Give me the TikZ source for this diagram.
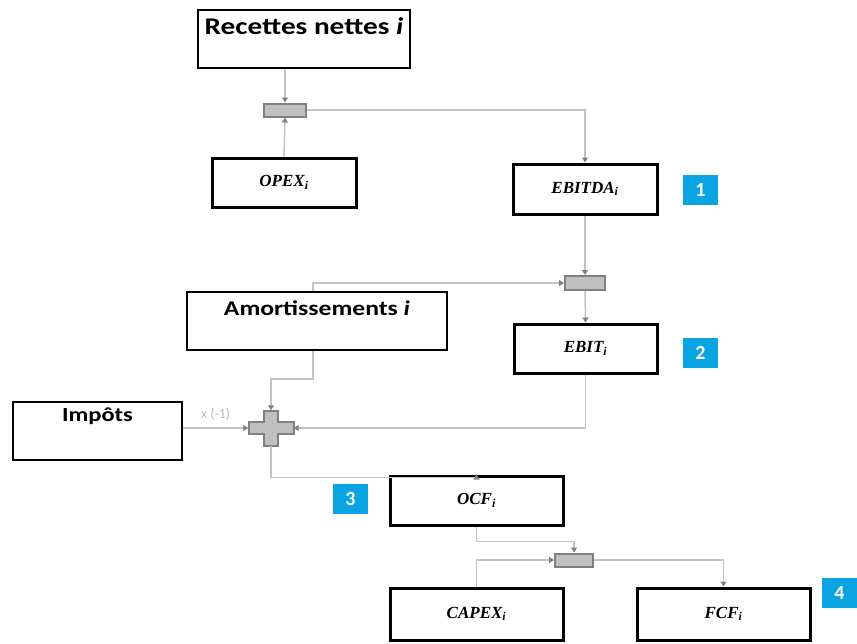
\documentclass[tikz,border=0pt]{standalone}
\usepackage{fontspec}
\setmainfont{Carlito}
\newfontfamily\boxfont[FakeStretch=1.22]{Carlito}
\newfontfamily\valfont{Liberation Serif}
\usetikzlibrary{arrows.meta, positioning}
\definecolor{LinkGrey}{HTML}{C3C3C3}
\definecolor{TipGrey}{HTML}{808080}
\definecolor{OpFill}{HTML}{C0C0C0}
\definecolor{TagBlue}{HTML}{0BA4E2}
\definecolor{NoteGrey}{HTML}{B8B8B8}
\newcommand{\val}[1]{{\valfont\bfseries\itshape #1\textsubscript{i}}}

\begin{document}
\begin{tikzpicture}[x=1pt, y=-1pt,
  valbox/.style={draw=black, line width=3pt, fill=white, inner sep=0pt, font=\fontsize{17}{19}\selectfont},
  txtbox/.style={draw=black, line width=1.8pt, fill=white, inner sep=0pt},
  txtlabel/.style={font=\boxfont\fontsize{21}{25}\selectfont\bfseries, anchor=north, inner sep=0pt, yshift=-9pt},
  tag/.style={fill=TagBlue, text=white, font=\fontsize{20}{22}\selectfont\bfseries, minimum width=35pt, minimum height=30pt, inner sep=0pt},
  opbox/.style={draw=TipGrey, fill=OpFill, line width=2pt, minimum height=13pt, inner sep=0pt},
  link/.style={draw=LinkGrey, line width=1.5pt, -{Triangle[width=6pt,length=5pt,color=TipGrey]}},
]
  \useasboundingbox (0,0) rectangle (857,643);
  % input boxes (text at the top)
  \node[txtbox, minimum width=212pt, minimum height=58pt,
        label={[txtlabel, yshift=1pt, font=\boxfont\fontsize{24}{28}\selectfont\bfseries]north:Recettes nettes \textit{i}}] (rec) at (304,39) {};
  \node[txtbox, minimum width=260pt, minimum height=58pt,
        label={[txtlabel]north:Amortissements \textit{i}}] (amort) at (317,321) {};
  \node[txtbox, minimum width=169pt, minimum height=58pt,
        label={[txtlabel, yshift=2pt, font=\boxfont\fontsize{20}{24}\selectfont\bfseries]north:Impôts}] (impots) at (97.5,431) {};
  % value boxes
  \node[valbox, minimum width=144pt, minimum height=49pt] (opex) at (284,182.5) {\val{OPEX}};
  \node[valbox, minimum width=144pt, minimum height=50pt] (ebitda) at (585,189) {\val{EBITDA}};
  \node[valbox, minimum width=143pt, minimum height=49pt] (ebit) at (585.5,348.5) {\val{EBIT}};
  \node[valbox, minimum width=173pt, minimum height=49pt] (ocf) at (476.5,500.5) {\val{OCF}};
  \node[valbox, minimum width=173pt, minimum height=52pt] (capex) at (476.5,614) {\val{CAPEX}};
  \node[valbox, minimum width=173pt, minimum height=52pt] (fcf) at (723.5,614) {\val{FCF}};
  % step tags
  \node[tag] (tag1) at (700.5,190) {1};
  \node[tag] (tag2) at (700.5,353) {2};
  \node[tag] (tag3) at (350.5,499) {3};
  \node[tag] (tag4) at (839.5,593) {4};
  % operators
  \node[opbox, minimum width=42pt] (sum1) at (285,110) {};
  \node[opbox, minimum width=40pt, minimum height=14pt] (sum2) at (585,283) {};
  \node[opbox, minimum width=38pt] (sum3) at (574,560) {};
  \node[minimum width=45pt, minimum height=35pt, inner sep=0pt] (plus) at (271,428) {};
  \draw[draw=TipGrey, fill=OpFill, line width=2pt] (plus.center) ++(-7,-17.5) -- ++(14,0) -- ++(0,11.5)
    -- ++(15.5,0) -- ++(0,12) -- ++(-15.5,0) -- ++(0,11.5) -- ++(-14,0) -- ++(0,-11.5)
    -- ++(-15.5,0) -- ++(0,-12) -- ++(15.5,0) -- cycle;
  % connectors
  \draw[link] (rec.south -| sum1) -- (sum1.north);
  \draw[link] (opex.north) -- (sum1.south);
  \draw[link] (sum1.east) -| (ebitda.north);
  \draw[link] (ebitda.south) -- (sum2.north);
  \draw[link] ([xshift=-4pt]amort.north) |- (sum2.west);
  \draw[link] (sum2.south) -- (ebit.north);
  \draw[link] ([xshift=-4pt]amort.south) -- ++(0,28) -| (plus.north);
  \draw[link] (ebit.south) |- (plus.east);
  \draw[link] (impots.east |- plus) -- node[above=3pt, text=NoteGrey, font=\fontsize{14}{16}\selectfont] (neg) {x (-1)} (plus.west);
  \draw[link] (plus.south) -- ++(0,32) -| (ocf.north);
  \draw[link] (ocf.south) -- ++(0,15) -| (sum3.north);
  \draw[link] (capex.north) |- (sum3.west);
  \draw[link] (sum3.east) -| (fcf.north);
\end{tikzpicture}
\end{document}
